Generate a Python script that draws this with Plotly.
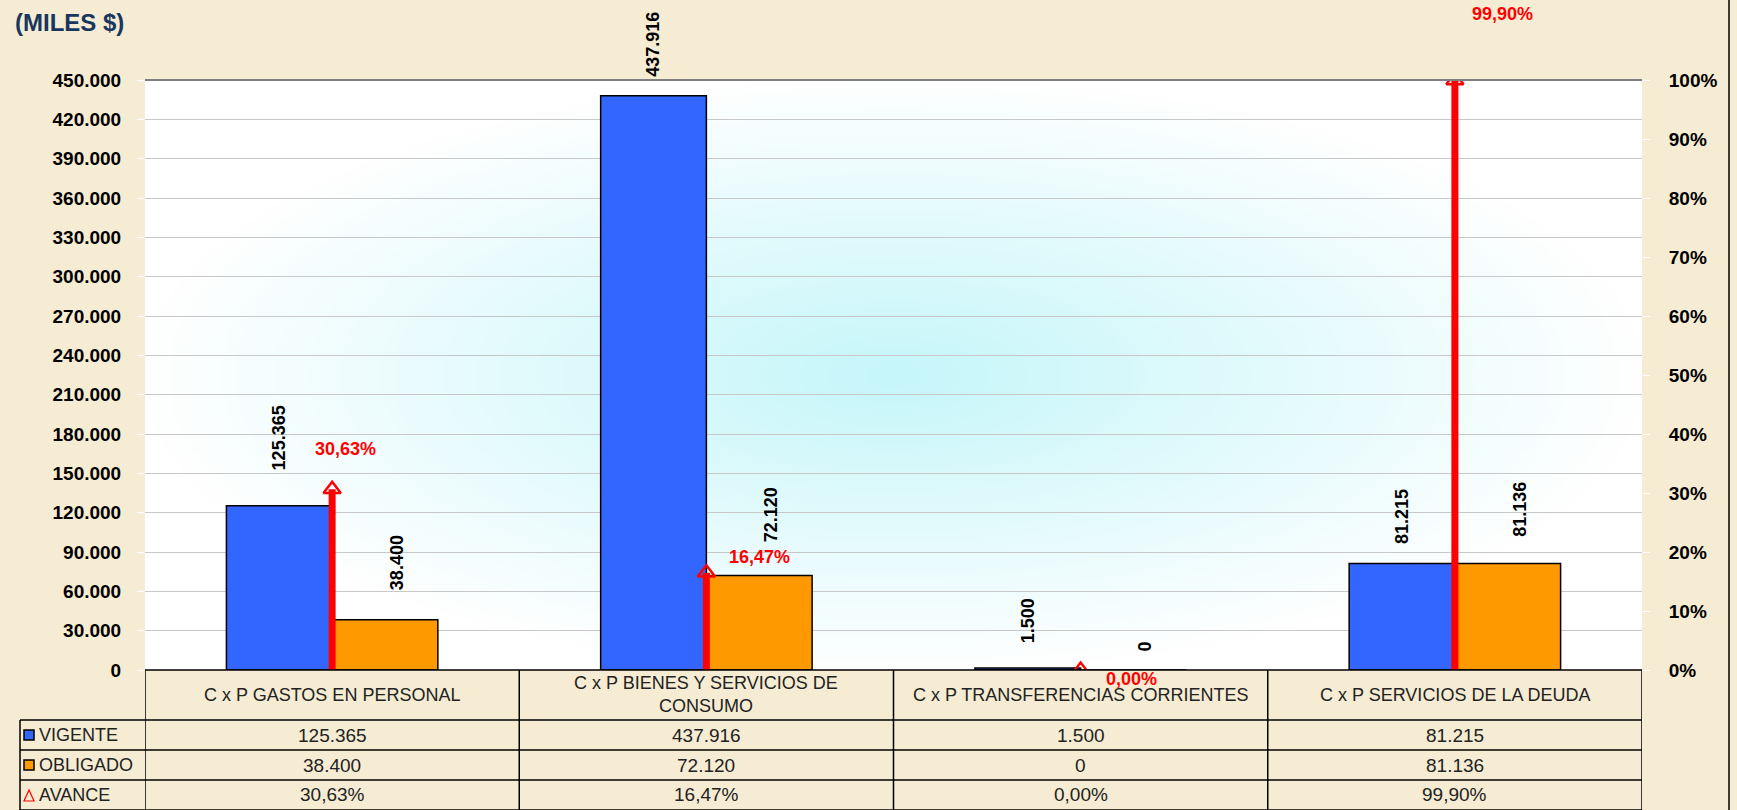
import base64
import struct
import textwrap
import zlib

import numpy as np
import plotly.graph_objects as go

# ---------------- data ----------------
categories = [
    "C x P GASTOS EN PERSONAL",
    "C x P BIENES Y SERVICIOS DE CONSUMO",
    "C x P TRANSFERENCIAS CORRIENTES",
    "C x P SERVICIOS DE LA DEUDA",
]
vigente = [125365, 437916, 1500, 81215]
obligado = [38400, 72120, 0, 81136]
avance = [0.3063, 0.1647, 0.0, 0.9990]
series_names = ["VIGENTE", "OBLIGADO", "AVANCE"]
y_ticks = list(range(0, 450001, 30000))
pct_ticks = [i / 10 for i in range(11)]
title_text = "(MILES $)"

# ---------------- style ----------------
W, H = 1737, 810
L, R, T, B = 145, 95, 80, 140
PW, PH = W - L - R, H - T - B
BARGAP = 0.435
BLUE, ORANGE, RED = "#3366FF", "#FF9900", "#FF0000"
FONT = "Liberation Sans, Arial, sans-serif"
BG = "#F6ECD3"
# label gaps (px) above bar tops, and offsets (px) of the red % labels
gap_vig = [33, 17, 23, 17]
gap_obl = [28, 31, 17, 25]
obl_xshift = 12
pct_offsets = [(13, 40), (53, 16), (51, -9), (48, 67)]


def xp(px):
    return (px - L) / PW


def yp(py):
    return (T + PH - py) / PH


def fmt_num(v):
    return f"{v:,}".replace(",", ".")


def fmt_pct(p):
    return f"{p * 100:.2f}".replace(".", ",") + "%"


def png_data_uri(arr):
    h, w, _ = arr.shape
    raw = b"".join(b"\x00" + arr[y].tobytes() for y in range(h))

    def chunk(t, d):
        c = struct.pack(">I", len(d)) + t + d
        return c + struct.pack(">I", zlib.crc32(t + d) & 0xFFFFFFFF)

    png = (b"\x89PNG\r\n\x1a\n"
           + chunk(b"IHDR", struct.pack(">IIBBBBB", w, h, 8, 2, 0, 0, 0))
           + chunk(b"IDAT", zlib.compress(raw, 9))
           + chunk(b"IEND", b""))
    return "data:image/png;base64," + base64.b64encode(png).decode()


# radial gradient for plot area (cyan centre -> white edges)
gw, gh = 400, 160
gx = (np.arange(gw) + 0.5) / gw * 2 - 1
gy = (np.arange(gh) + 0.5) / gh * 2 - 1
dist = np.clip(np.sqrt(gx[None, :] ** 2 + gy[:, None] ** 2), 0, 1)
centre = np.array([198, 246, 250], dtype=float)
white = np.array([255, 255, 255], dtype=float)
grad = (centre[None, None, :] * (1 - dist[..., None]) + white[None, None, :] * dist[..., None])
grad_img = png_data_uri(grad.astype(np.uint8))

fig = go.Figure()
fig.add_bar(x=categories, y=vigente, name=series_names[0],
            marker=dict(color=BLUE, line=dict(color="black", width=1.5)))
fig.add_bar(x=categories, y=obligado, name=series_names[1],
            marker=dict(color=ORANGE, line=dict(color="black", width=1.5)))
fig.add_scatter(x=categories, y=avance, yaxis="y2", mode="markers", name=series_names[2],
                marker=dict(symbol="triangle-up-open", size=15, color=RED, line=dict(width=2.5, color=RED)),
                error_y=dict(type="data", symmetric=False, array=[0] * len(avance),
                             arrayminus=avance, color=RED, thickness=7, width=0))

annotations = []
bar_w = (1 - BARGAP) / 2
for i in range(len(categories)):
    annotations.append(dict(x=i - bar_w / 2, y=vigente[i], xref="x", yref="y",
                            text=f"<b>{fmt_num(vigente[i])}</b>", textangle=-90,
                            showarrow=False, yanchor="bottom", xanchor="center",
                            yshift=gap_vig[i], font=dict(family=FONT, size=18, color="black")))
    annotations.append(dict(x=i + bar_w / 2, y=obligado[i], xref="x", yref="y",
                            text=f"<b>{fmt_num(obligado[i])}</b>", textangle=-90,
                            showarrow=False, yanchor="bottom", xanchor="center",
                            xshift=obl_xshift, yshift=gap_obl[i],
                            font=dict(family=FONT, size=18, color="black")))
    dx, dy = pct_offsets[i]
    annotations.append(dict(x=i, y=avance[i], xref="x", yref="y2",
                            text=f"<b>{fmt_pct(avance[i])}</b>", showarrow=False,
                            xanchor="center", yanchor="middle",
                            xshift=dx, yshift=dy, font=dict(family=FONT, size=18, color=RED)))

# title
annotations.append(dict(x=xp(13), y=yp(22), xref="paper", yref="paper", xanchor="left",
                        yanchor="middle", showarrow=False, text=f"<b>{title_text}</b>",
                        font=dict(family=FONT, size=24, color="#17375E")))

# ---------------- data table ----------------
tcol = "#222222"
TFS = 19
row_tops = [720, 750, 780, 810]
for i, cat in enumerate(categories):
    annotations.append(dict(x=i, y=yp(695), xref="x", yref="paper", showarrow=False,
                            xanchor="center", yanchor="middle",
                            text="<br>".join(textwrap.wrap(cat, 31)),
                            font=dict(family=FONT, size=TFS - 1, color=tcol)))
row_values = [[fmt_num(v) for v in vigente], [fmt_num(v) for v in obligado],
              [fmt_pct(v) for v in avance]]
for r, vals in enumerate(row_values):
    yc = row_tops[r] + 15
    annotations.append(dict(x=xp(37), y=yp(yc), xref="paper", yref="paper", xanchor="left",
                            yanchor="middle", showarrow=False, text=series_names[r],
                            font=dict(family=FONT, size=TFS - 1, color=tcol)))
    for i, v in enumerate(vals):
        annotations.append(dict(x=i, y=yp(yc), xref="x", yref="paper", showarrow=False,
                                xanchor="center", yanchor="middle",
                                text=v, font=dict(family=FONT, size=TFS, color=tcol)))

shapes = []
line_k = dict(color="black", width=1.5)
shapes.append(dict(type="line", xref="paper", yref="paper", x0=0, x1=1, y0=0, y1=0, line=line_k))
for py in row_tops:
    shapes.append(dict(type="line", xref="paper", yref="paper", x0=xp(20), x1=1,
                       y0=yp(py), y1=yp(py), line=line_k))
shapes.append(dict(type="line", xref="paper", yref="paper", x0=xp(20), x1=xp(20),
                   y0=yp(720), y1=yp(810), line=line_k))
for k in range(len(categories) + 1):
    shapes.append(dict(type="line", xref="x", yref="paper", x0=k - 0.5, x1=k - 0.5,
                       y0=0, y1=yp(810), line=line_k))
# legend keys
for r, col in enumerate([BLUE, ORANGE]):
    yc = row_tops[r] + 15
    shapes.append(dict(type="rect", xref="paper", yref="paper", x0=xp(24), x1=xp(34),
                       y0=yp(yc + 5), y1=yp(yc - 5), fillcolor=col,
                       line=dict(color="black", width=1.5)))
yc = row_tops[2] + 15
shapes.append(dict(type="path", xref="paper", yref="paper",
                   path=f"M {xp(24)},{yp(yc + 6)} L {xp(34)},{yp(yc + 6)} L {xp(29)},{yp(yc - 5)} Z",
                   line=dict(color=RED, width=1.2), fillcolor="rgba(0,0,0,0)"))
# top border of plot area and right border of chart
shapes.append(dict(type="line", xref="paper", yref="paper", x0=0, x1=1, y0=1, y1=1,
                   line=dict(color="#808080", width=2)))
shapes.append(dict(type="line", xref="paper", yref="paper", x0=xp(1729), x1=xp(1729),
                   y0=yp(812), y1=yp(-2), line=dict(color="black", width=1.5)))

fig.update_layout(
    width=W, height=H,
    margin=dict(l=L, r=R, t=T, b=B, pad=0),
    paper_bgcolor=BG, plot_bgcolor="white",
    separators=",.",
    barmode="group", bargap=BARGAP, bargroupgap=0,
    showlegend=False, hovermode=False,
    font=dict(family=FONT),
    images=[dict(source=grad_img, xref="paper", yref="paper", x=0, y=1, sizex=1, sizey=1,
                 sizing="stretch", layer="below")],
    xaxis=dict(type="category", range=[-0.5, 3.5], showticklabels=False, showgrid=False,
               zeroline=False, ticks="", showline=False),
    yaxis=dict(range=[0, 450000], tickvals=y_ticks, tickformat=",.0f", showgrid=True,
               gridcolor="#C8C8C8", gridwidth=1, zeroline=False, ticks="outside",
               ticklen=7, tickcolor="white", ticklabelstandoff=12,
               tickfont=dict(family=FONT, size=19, color="black", weight="bold")),
    yaxis2=dict(range=[0, 1], tickvals=pct_ticks, tickformat=".0%", overlaying="y",
                side="right", showgrid=False, zeroline=False, ticks="outside",
                ticklen=7, tickcolor="white", ticklabelstandoff=15,
                tickfont=dict(family=FONT, size=19, color="black", weight="bold")),
    annotations=annotations,
    shapes=shapes,
)

fig.write_html("out.html", config={"displayModeBar": False, "staticPlot": True},
               post_script="document.body.style.margin='0';document.body.style.overflow='hidden';")
